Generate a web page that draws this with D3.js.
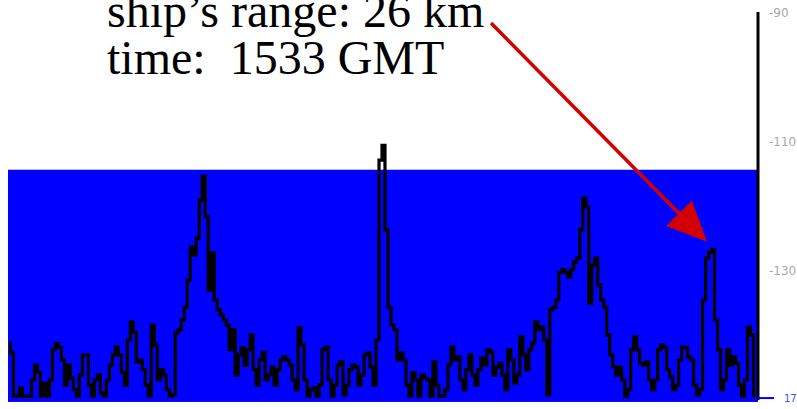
<!DOCTYPE html>
<html>
<head>
<meta charset="utf-8">
<script src="https://cdn.jsdelivr.net/npm/d3@7/dist/d3.min.js"></script>
<style>
  html, body { margin: 0; padding: 0; background: #fff; }
  svg { display: block; }
</style>
</head>
<body>
<svg id="chart" width="797" height="409"></svg>
<script>
// Received power spectrum (dB), one value per frequency bin
const power = [
  -141.2, -142.7, -149.4, -149.4, -148.1, -149.4, -149.4, -149.4, -146.9, -144.6,
  -145.7, -149.4, -147.4, -149.4, -146.9, -142.2, -141.2, -141.8, -143.8, -147.7,
  -144.6, -146.6, -148.4, -149.4, -146.1, -143.0, -143.0, -147.7, -149.4, -146.9,
  -146.1, -148.9, -149.4, -146.9, -144.6, -143.0, -141.8, -143.0, -145.7, -147.7,
  -140.7, -137.9, -139.5, -144.1, -143.8, -145.3, -147.7, -149.4, -138.4, -141.5,
  -146.9, -145.3, -146.1, -148.4, -149.4, -149.2, -139.6, -139.1, -137.6, -135.6,
  -131.4, -126.3, -127.5, -124.9, -119.0, -115.3, -121.6, -133.0, -127.2, -134.5,
  -136.0, -136.8, -137.6, -138.4, -142.2, -139.1, -146.1, -143.0, -141.9, -144.6,
  -142.2, -139.9, -145.3, -147.7, -143.8, -142.6, -146.9, -146.1, -144.9, -147.7,
  -145.3, -143.8, -143.3, -143.8, -144.6, -146.9, -148.4, -138.8, -141.5, -146.9,
  -149.4, -148.4, -148.1, -149.4, -147.7, -142.2, -141.8, -146.9, -149.4, -147.7,
  -144.6, -144.1, -149.2, -147.7, -145.3, -144.6, -144.9, -147.7, -146.1, -143.0,
  -142.7, -144.9, -147.7, -140.7, -112.8, -110.5, -123.6, -135.6, -138.4, -139.1,
  -143.8, -142.7, -143.8, -147.7, -149.4, -145.8, -146.9, -149.4, -146.1, -146.6,
  -146.9, -149.4, -144.1, -147.7, -149.4, -149.4, -148.4, -144.6, -141.8, -143.8,
  -143.3, -146.9, -148.4, -145.3, -143.0, -146.1, -147.7, -145.3, -143.5, -144.6,
  -142.2, -142.6, -146.1, -144.9, -144.3, -146.1, -148.4, -142.2, -143.8, -147.4,
  -146.1, -140.2, -143.0, -145.3, -142.2, -141.2, -137.9, -139.1, -138.7, -140.7,
  -149.2, -136.0, -135.6, -134.5, -130.2, -129.8, -130.2, -130.9, -129.8, -128.6,
  -128.0, -123.6, -118.7, -120.1, -135.0, -129.1, -128.0, -132.2, -134.5, -135.6,
  -139.9, -143.0, -144.9, -146.1, -144.9, -146.9, -149.4, -148.4, -142.2, -140.2,
  -142.2, -144.3, -144.6, -144.1, -146.9, -148.4, -146.9, -142.2, -141.5, -141.9,
  -145.3, -146.4, -148.4, -147.7, -143.8, -141.8, -141.9, -143.3, -143.8, -147.7,
  -149.2, -148.4, -134.5, -128.0, -127.1, -126.7, -137.6, -142.2, -148.4, -146.9,
  -142.2, -144.6, -143.3, -144.3, -147.7, -149.4, -146.9, -138.7, -139.9, -149.4
];

// Right-hand power axis
const powerTicks = [-90, -110, -130];
const powerDomain = [-90, -150];

// Detection band drawn behind the trace
const bandTop = -114.3;
const bandBottom = -150.3;

// Floor marker on the axis
const floorLabel = "17";
const floorLevel = -149.7;

// Annotation text
const annotationLines = ["ship\u2019s range: 26 km", "time:  1533 GMT"];
const targetBin = 235;

const svg = d3.select("#chart");

const x = d3.scaleLinear().domain([0, power.length - 1]).range([9, 755]);
const y = d3.scaleLinear().domain(powerDomain).range([13, 400]);

const axisX = 758;

// Blue band
svg.append("rect")
  .attr("x", 8)
  .attr("y", y(bandTop))
  .attr("width", axisX - 8)
  .attr("height", y(bandBottom) - y(bandTop))
  .attr("fill", "#0000fe");

// Spectrum trace
const line = d3.line()
  .x((d, i) => x(i))
  .y(d => y(d))
  .curve(d3.curveStep);

svg.append("path")
  .datum(power)
  .attr("d", line)
  .attr("fill", "none")
  .attr("stroke", "#000")
  .attr("stroke-width", 3.2)
  .attr("stroke-linejoin", "miter");

// Axis
const axis = d3.axisRight(y)
  .tickValues(powerTicks)
  .tickFormat(d => String(d))
  .tickSize(0)
  .tickSizeOuter(0)
  .tickPadding(11);

const gAxis = svg.append("g")
  .attr("transform", `translate(${axisX},0)`)
  .call(axis);

gAxis.select(".domain")
  .attr("stroke", "#000")
  .attr("stroke-width", 3)
  .attr("d", `M0,${y(powerDomain[0]) - 1}V${y(powerDomain[1])}`);

gAxis.selectAll(".tick text")
  .attr("fill", "#a8a8a8")
  .attr("font-family", "DejaVu Sans, sans-serif")
  .attr("font-size", 12);

// Floor marker
svg.append("line")
  .attr("x1", axisX)
  .attr("x2", axisX + 16)
  .attr("y1", y(floorLevel))
  .attr("y2", y(floorLevel))
  .attr("stroke", "#0000fe")
  .attr("stroke-width", 2);

svg.append("text")
  .attr("x", axisX + 26)
  .attr("y", y(floorLevel))
  .attr("dy", "0.35em")
  .attr("fill", "#3355ff")
  .attr("font-family", "DejaVu Sans, sans-serif")
  .attr("font-size", 10)
  .text(floorLabel);

// Annotation text
const label = svg.append("text")
  .attr("font-family", "Liberation Serif, Times New Roman, serif")
  .attr("font-size", 48)
  .attr("fill", "#000")
  .style("white-space", "pre");

annotationLines.forEach((t, i) => {
  label.append("tspan")
    .attr("x", 107)
    .attr("y", 27 + i * 47)
    .text(t);
});

// Arrow pointing at the target peak
const tip = [x(targetBin) - 6, y(power[targetBin]) - 8];
const start = [491, 23];
const dx = tip[0] - start[0], dy = tip[1] - start[1];
const len = Math.hypot(dx, dy);
const ux = dx / len, uy = dy / len;
const headLen = 40, headHalf = 18;
const base = [tip[0] - ux * headLen, tip[1] - uy * headLen];

svg.append("line")
  .attr("x1", start[0])
  .attr("y1", start[1])
  .attr("x2", base[0] + ux * 2)
  .attr("y2", base[1] + uy * 2)
  .attr("stroke", "#d40000")
  .attr("stroke-width", 3.5);

svg.append("path")
  .attr("d", d3.line()([
    tip,
    [base[0] - uy * headHalf, base[1] + ux * headHalf],
    [base[0] + uy * headHalf, base[1] - ux * headHalf]
  ]) + "Z")
  .attr("fill", "#d40000");
</script>
</body>
</html>
